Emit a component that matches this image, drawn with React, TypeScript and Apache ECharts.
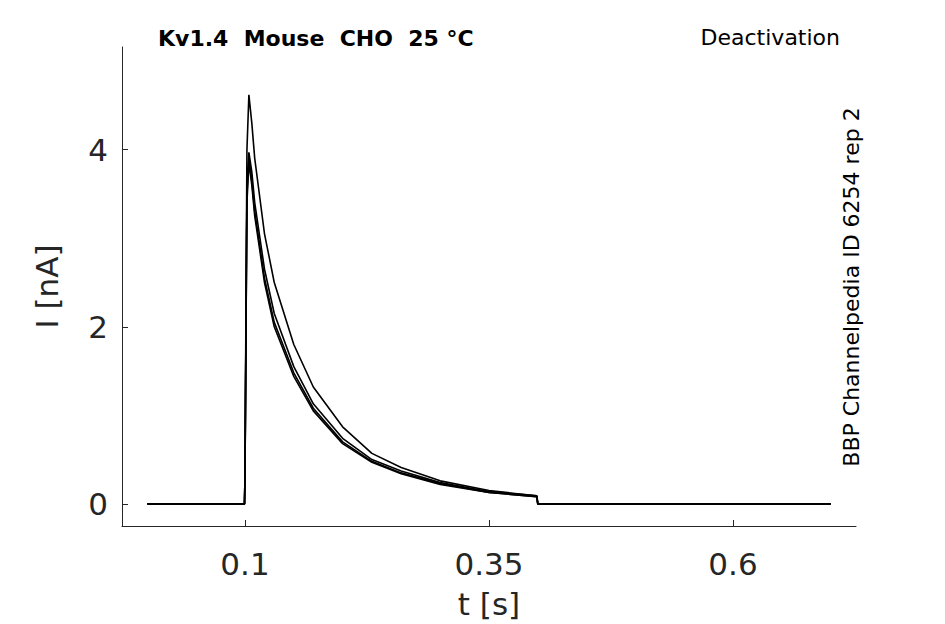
import React, { useEffect, useRef } from "react";
import * as echarts from "echarts";

const times = [0, 0.05, 0.0995, 0.1, 0.101, 0.102, 0.104, 0.107, 0.11, 0.12, 0.13, 0.15, 0.17, 0.2, 0.23, 0.26, 0.3, 0.35, 0.399, 0.4, 0.45, 0.5, 0.6, 0.7];
const trace1 = [0, 0, 0, 0.3, 2.2, 4.0, 4.62, 4.3, 3.9, 3.05, 2.5, 1.8, 1.32, 0.87, 0.57, 0.41, 0.26, 0.15, 0.09, 0.0, 0.0, 0.0, 0.0, 0.0];
const trace2 = [0, 0, 0, 0.3, 2.0, 3.6, 3.97, 3.75, 3.4, 2.65, 2.15, 1.55, 1.13, 0.74, 0.5, 0.37, 0.24, 0.14, 0.09, 0.0, 0.0, 0.0, 0.0, 0.0];
const trace3 = [0, 0, 0, 0.3, 1.9, 3.5, 3.9, 3.65, 3.3, 2.55, 2.05, 1.48, 1.08, 0.7, 0.48, 0.35, 0.23, 0.13, 0.08, 0.0, 0.0, 0.0, 0.0, 0.0];
const trace4 = [0, 0, 0, 0.3, 1.9, 3.4, 3.85, 3.6, 3.25, 2.5, 2.0, 1.44, 1.05, 0.68, 0.47, 0.34, 0.22, 0.13, 0.08, 0.0, 0.0, 0.0, 0.0, 0.0];
const traces = [trace1, trace2, trace3, trace4];
const xTicks = [0.1, 0.35, 0.6];
const yTicks = [0, 2, 4];

export default function App() {
  const ref = useRef<HTMLDivElement>(null);
  useEffect(() => {
    const chart = echarts.init(ref.current!, null, { renderer: "svg" });
    chart.setOption({
      animation: false,
      backgroundColor: "#fff",
      textStyle: { fontFamily: "DejaVu Sans" },
      grid: { left: 122, right: 89, top: 47, bottom: 98 },
      xAxis: {
        type: "value", min: -0.026, max: 0.726,
        name: "t [s]", nameLocation: "middle", nameGap: 62,
        nameTextStyle: { fontSize: 31, color: "#262626" },
        axisLine: { onZero: false, lineStyle: { color: "#262626" } },
        axisTick: { inside: true, length: 6, customValues: xTicks, lineStyle: { color: "#262626" } },
        axisLabel: { customValues: xTicks, fontSize: 31, color: "#262626", margin: 22 },
        splitLine: { show: false },
      },
      yAxis: {
        type: "value", min: -0.25, max: 5.16,
        name: "I [nA]", nameLocation: "middle", nameGap: 60,
        nameTextStyle: { fontSize: 31, color: "#262626" },
        axisLine: { show: true, onZero: false, lineStyle: { color: "#262626" } },
        axisTick: { show: true, inside: true, length: 6, customValues: yTicks, lineStyle: { color: "#262626" } },
        axisLabel: { customValues: yTicks, fontSize: 31, color: "#262626", margin: 14 },
        splitLine: { show: false },
      },
      series: traces.map((tr) => ({
        type: "line", showSymbol: false, symbol: "none",
        data: times.map((t, i) => [t, tr[i]]),
        lineStyle: { color: "#000", width: 1.6 },
      })),
      graphic: [
        { type: "text", left: 158, top: 27, style: { text: "Kv1.4  Mouse  CHO  25 °C", font: "bold 22px 'DejaVu Sans'", fill: "#000" } },
        { type: "text", right: 105, top: 26, style: { text: "Deactivation", font: "22px 'DejaVu Sans'", fill: "#000" } },
        { type: "text", x: 862, y: 287, rotation: Math.PI / 2, style: { text: "BBP Channelpedia ID 6254 rep 2", font: "22px 'DejaVu Sans'", fill: "#000", align: "center", verticalAlign: "bottom" } },
      ],
    });
    return () => chart.dispose();
  }, []);
  return <div ref={ref} style={{ position: "fixed", left: 0, top: 0, width: 945, height: 624 }} />;
}
